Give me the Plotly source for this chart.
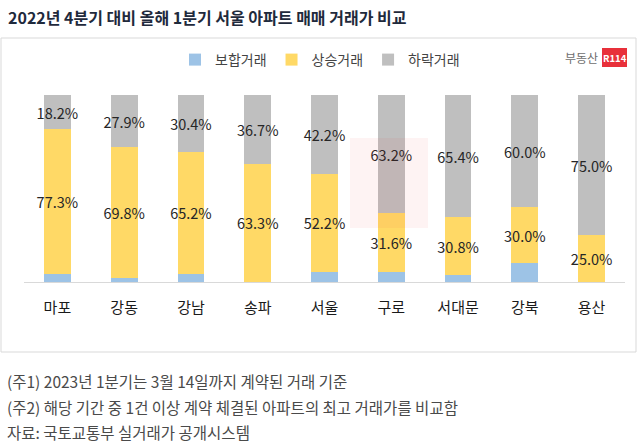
import plotly.graph_objects as go

categories = ["마포", "강동", "강남", "송파", "서울", "구로", "서대문", "강북", "용산"]
flat = [4.5, 2.3, 4.4, 0.0, 5.6, 5.2, 3.8, 10.0, 0.0]
rise = [77.3, 69.8, 65.2, 63.3, 52.2, 31.6, 30.8, 30.0, 25.0]
fall = [18.2, 27.9, 30.4, 36.7, 42.2, 63.2, 65.4, 60.0, 75.0]
series_names = ["보합거래", "상승거래", "하락거래"]
colors = ["#9dc3e6", "#ffd966", "#bfbfbf"]

FONT = "Noto Sans CJK KR"
W, H = 638, 448
L, R, T, B = 24, 13, 95, 166
PW = W - L - R
PH = H - T - B


def px2x(p):
    return (p - L) / PW


def py2y(p):
    return (H - B - p) / PH


fig = go.Figure()
for name, vals, col in zip(series_names, [flat, rise, fall], colors):
    show_text = name != "보합거래"
    fig.add_trace(go.Bar(
        x=categories, y=vals, name=name,
        marker=dict(color=col, line=dict(width=0)),
        texttemplate="%{y:.1f}%" if show_text else None,
        textposition="inside" if show_text else "none",
        insidetextanchor="middle",
        textangle=0,
        constraintext="none",
        textfont=dict(family=FONT, size=14.5, color="#262626"),
        hoverinfo="skip",
    ))

shapes = [
    dict(type="rect", xref="paper", yref="paper",
         x0=px2x(1), x1=px2x(636), y0=py2y(352), y1=py2y(38),
         line=dict(color="#d9d9d9", width=1), fillcolor="rgba(0,0,0,0)", layer="below"),
    # logo red box
    dict(type="rect", xref="paper", yref="paper",
         x0=px2x(602), x1=px2x(627), y0=py2y(67), y1=py2y(48),
         line=dict(width=0), fillcolor="#e8303a"),
    # faint watermark tint
    dict(type="rect", xref="paper", yref="paper",
         x0=px2x(350), x1=px2x(428), y0=py2y(228), y1=py2y(138),
         line=dict(width=0), fillcolor="rgba(232,48,58,0.06)", layer="above"),
]

annotations = [
    dict(text="부동산", x=px2x(600), y=py2y(57), xref="paper", yref="paper",
         xanchor="right", yanchor="middle", showarrow=False,
         font=dict(family=FONT, size=12, color="#6e6e6e")),
    dict(text="<b>R114</b>", x=px2x(614.5), y=py2y(57.5), xref="paper", yref="paper",
         xanchor="center", yanchor="middle", showarrow=False,
         font=dict(family=FONT, size=9.5, color="#ffffff")),
]
notes = ["(주1) 2023년 1분기는 3월 14일까지 계약된 거래 기준",
         "(주2) 해당 기간 중 1건 이상 계약 체결된 아파트의 최고 거래가를 비교함",
         "자료: 국토교통부 실거래가 공개시스템"]
for i, n in enumerate(notes):
    annotations.append(dict(text=n, x=px2x(5), y=py2y(381 + 25.5 * i), xref="paper", yref="paper",
                            xanchor="left", yanchor="middle", showarrow=False,
                            font=dict(family=FONT, size=15.5, color="#4a4a4a")))

fig.update_layout(
    width=W, height=H,
    margin=dict(l=L, r=R, t=T, b=B),
    paper_bgcolor="#ffffff", plot_bgcolor="#ffffff",
    barmode="stack", bargap=0.6,
    title=dict(text="<b>2022년 4분기 대비 올해 1분기 서울 아파트 매매 거래가 비교</b>",
               x=8 / W, xanchor="left", xref="container",
               y=1 - 18 / H, yanchor="middle", yref="container",
               font=dict(family=FONT, size=16, color="#1f2a3c")),
    legend=dict(orientation="h", x=px2x(320), xanchor="center", y=py2y(60), yanchor="middle",
                font=dict(family=FONT, size=14, color="#444444"),
                traceorder="normal", itemwidth=30, bgcolor="rgba(0,0,0,0)"),
    xaxis=dict(showline=True, linecolor="#d9d9d9", linewidth=1, ticks="",
               ticklabelstandoff=12,
               tickfont=dict(family=FONT, size=15, color="#1a1a1a"), fixedrange=True),
    yaxis=dict(range=[0, 100], visible=False, showgrid=False, fixedrange=True),
    shapes=shapes, annotations=annotations,
    showlegend=True,
)

fig.write_html("out.html", config={"displayModeBar": False},
               post_script="document.body.style.margin='0';")
